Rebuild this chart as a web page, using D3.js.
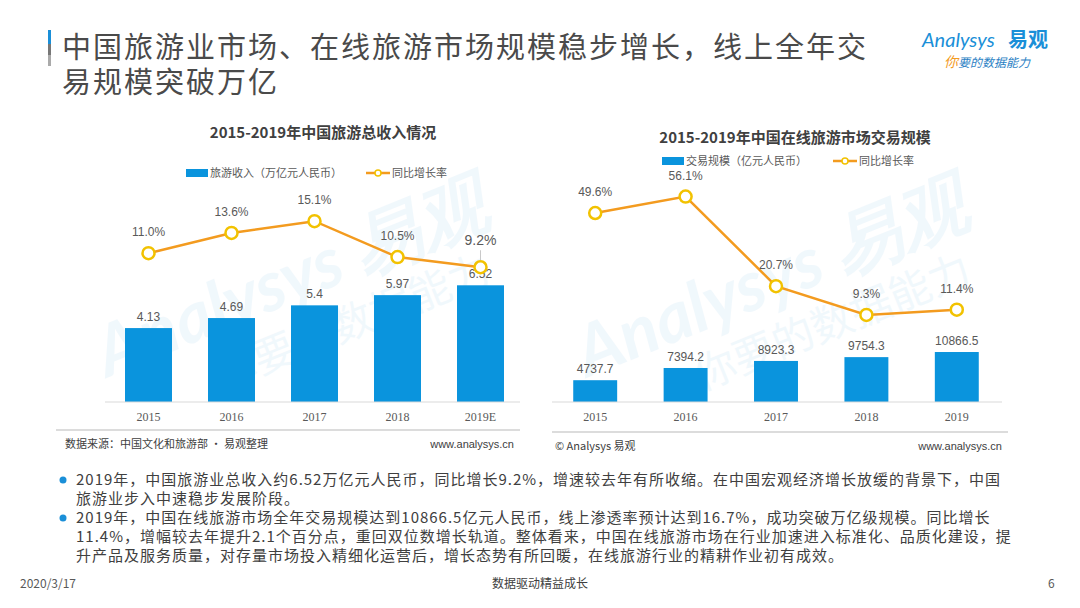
<!DOCTYPE html>
<html>
<head>
<meta charset="utf-8">
<script src="https://cdn.jsdelivr.net/npm/d3@7"></script>
<style>
  body { margin: 0; background: #fff; }
  svg { display: block; font-family: "Noto Sans CJK SC", "Noto Sans", sans-serif; }
</style>
</head>
<body>
<div id="slide"></div>
<script>
// data
let yearsL   = ['2015', '2016', '2017', '2018', '2019E'];
let incomeL  = [4.13, 4.69, 5.4, 5.97, 6.52];
let growthL  = [11.0, 13.6, 15.1, 10.5, 9.2];

let yearsR   = ['2015', '2016', '2017', '2018', '2019'];
let scaleR   = [4737.7, 7394.2, 8923.3, 9754.3, 10866.5];
let growthR  = [49.6, 56.1, 20.7, 9.3, 11.4];

let bullets = [
  ['2019年，中国旅游业总收入约6.52万亿元人民币，同比增长9.2%，增速较去年有所收缩。在中国宏观经济增长放缓的背景下，中国',
   '旅游业步入中速稳步发展阶段。'],
  ['2019年，中国在线旅游市场全年交易规模达到10866.5亿元人民币，线上渗透率预计达到16.7%，成功突破万亿级规模。同比增长',
   '11.4%，增幅较去年提升2.1个百分点，重回双位数增长轨道。整体看来，中国在线旅游市场在行业加速进入标准化、品质化建设，提',
   '升产品及服务质量，对存量市场投入精细化运营后，增长态势有所回暖，在线旅游行业的精耕作业初有成效。']
];

let w = 1080, h = 608;
let BLUE = '#0a94dd', ORANGE = '#f39b1f', RING = '#f2c200', GREY = '#595959';

let svg = d3.select('#slide').append('svg').attr('width', w).attr('height', h);

// header
let bar = svg.append('defs').append('linearGradient').attr('id', 'hbar').attr('x1', 0).attr('x2', 0).attr('y1', 0).attr('y2', 1);
bar.append('stop').attr('offset', '0%').attr('stop-color', '#1a8fd8');
bar.append('stop').attr('offset', '40%').attr('stop-color', '#1a8fd8');
bar.append('stop').attr('offset', '40%').attr('stop-color', '#777');
bar.append('stop').attr('offset', '70%').attr('stop-color', '#777');
bar.append('stop').attr('offset', '70%').attr('stop-color', '#aaa');
svg.append('rect').attr('x', 48).attr('y', 30).attr('width', 3).attr('height', 36).attr('fill', 'url(#hbar)');

svg.append('text').attr('x', 62).attr('y', 58).attr('font-size', 29).attr('letter-spacing', 2).attr('fill', '#4a4a4a')
  .text('中国旅游业市场、在线旅游市场规模稳步增长，线上全年交');
svg.append('text').attr('x', 62).attr('y', 93).attr('font-size', 29).attr('letter-spacing', 2).attr('fill', '#4a4a4a')
  .text('易规模突破万亿');

// logo
let logo = svg.append('g');
logo.append('text').attr('x', 922).attr('y', 47).attr('font-size', 20).attr('fill', '#1a8fd8')
  .attr('font-family', 'Lato, sans-serif').attr('font-style', 'italic').text('Analysys');
logo.append('text').attr('x', 1008).attr('y', 47).attr('font-size', 20).attr('font-weight', 'bold').attr('fill', '#1a8fd8').text('易观');
logo.append('text').attr('x', 944).attr('y', 67).attr('font-size', 12).attr('font-style', 'italic')
  .call(t => {
    t.append('tspan').attr('fill', '#f39b1f').attr('font-size', 14).text('你');
    t.append('tspan').attr('fill', '#2b7fc4').text('要的数据能力');
  });

function chart(cfg) {
  let g = svg.append('g');

  // watermark
  let wm = g.append('g').attr('transform', 'translate(' + cfg.wm + ') rotate(-22)').attr('opacity', 0.06).attr('fill', '#1a8fd8');
  wm.append('text').attr('text-anchor', 'middle').attr('font-size', 70).attr('font-weight', 'bold')
    .attr('font-family', 'Lato, sans-serif').attr('font-style', 'italic').text('Analysys 易观');
  wm.append('text').attr('text-anchor', 'middle').attr('y', 55).attr('x', 40).attr('font-size', 42).text('你要的数据能力');

  g.append('text').attr('x', cfg.titleX).attr('y', cfg.titleY).attr('text-anchor', 'middle')
    .attr('font-size', 15).attr('font-weight', 'bold').attr('fill', '#404040').text(cfg.title);

  // legend
  g.append('rect').attr('x', cfg.legX).attr('y', cfg.legY - 4).attr('width', 22).attr('height', 8).attr('fill', BLUE);
  g.append('text').attr('x', cfg.legX + 24).attr('y', cfg.legY + 4).attr('font-size', 11).attr('fill', GREY).text(cfg.barName);
  g.append('line').attr('x1', cfg.leg2X).attr('x2', cfg.leg2X + 24).attr('y1', cfg.legY).attr('y2', cfg.legY)
    .attr('stroke', ORANGE).attr('stroke-width', 2.5);
  g.append('circle').attr('cx', cfg.leg2X + 12).attr('cy', cfg.legY).attr('r', 3).attr('fill', '#fff').attr('stroke', RING).attr('stroke-width', 1.5);
  g.append('text').attr('x', cfg.leg2X + 26).attr('y', cfg.legY + 4).attr('font-size', 11).attr('fill', GREY).text('同比增长率');

  let x = d3.scaleBand().domain(cfg.years).range(cfg.xRange).paddingInner(cfg.pad).paddingOuter(cfg.pad / 2);
  let y = d3.scaleLinear().domain(cfg.barDomain).range([402, 402 - cfg.barPx]);
  let yl = d3.scaleLinear().domain([0, cfg.lineMax]).range([cfg.lineZero, cfg.lineZero - cfg.lineMax * cfg.linePx]);

  g.selectAll('rect.bar').data(cfg.bars).enter().append('rect').attr('class', 'bar')
    .attr('x', (d, i) => x(cfg.years[i])).attr('width', x.bandwidth())
    .attr('y', d => y(d)).attr('height', d => y(0) - y(d)).attr('fill', BLUE);

  g.selectAll('text.bv').data(cfg.bars).enter().append('text').attr('class', 'bv')
    .attr('x', (d, i) => x(cfg.years[i]) + x.bandwidth() / 2).attr('y', d => y(d) - 7)
    .attr('text-anchor', 'middle').attr('font-size', 12).attr('fill', GREY)
    .attr('font-family', '"Liberation Sans", sans-serif').text(d => d);

  // axis
  let axis = g.append('g').attr('transform', 'translate(0,402)')
    .call(d3.axisBottom(x).tickSize(0).tickPadding(10));
  axis.select('.domain').attr('stroke', '#d9d9d9').attr('d', 'M' + cfg.axisX[0] + ',0H' + cfg.axisX[1]);
  axis.selectAll('text').attr('font-size', 12).attr('fill', GREY).attr('font-family', '"Liberation Serif", serif');

  let line = d3.line().x((d, i) => x(cfg.years[i]) + x.bandwidth() / 2).y(d => yl(d));
  g.append('path').datum(cfg.rates).attr('d', line).attr('fill', 'none').attr('stroke', ORANGE).attr('stroke-width', 2.5);

  g.selectAll('circle.pt').data(cfg.rates).enter().append('circle').attr('class', 'pt')
    .attr('cx', (d, i) => x(cfg.years[i]) + x.bandwidth() / 2).attr('cy', d => yl(d)).attr('r', 6)
    .attr('fill', '#fff').attr('stroke', RING).attr('stroke-width', 2.5);

  g.selectAll('text.pv').data(cfg.rates).enter().append('text').attr('class', 'pv')
    .attr('x', (d, i) => x(cfg.years[i]) + x.bandwidth() / 2)
    .attr('y', (d, i) => yl(d) - (cfg.bigLast && i === cfg.rates.length - 1 ? 22 : 17))
    .attr('text-anchor', 'middle').attr('fill', GREY)
    .attr('font-size', (d, i) => cfg.bigLast && i === cfg.rates.length - 1 ? 14 : 12)
    .attr('font-family', '"Liberation Sans", sans-serif').text(d => d.toFixed(1) + '%');

  if (cfg.bigLast) {
    let lx = x(cfg.years[4]) + x.bandwidth() / 2, ly = yl(cfg.rates[4]);
    g.append('line').attr('x1', lx).attr('x2', lx).attr('y1', ly - 17).attr('y2', ly - 7).attr('stroke', '#bbb').attr('stroke-width', 0.8);
  }

  // source strip
  g.append('line').attr('x1', cfg.sepX[0]).attr('x2', cfg.sepX[1]).attr('y1', cfg.sepY).attr('y2', cfg.sepY)
    .attr('stroke', '#d0d0d0').attr('stroke-width', 1.5);
  g.append('text').attr('x', cfg.srcX).attr('y', cfg.sepY + 18).attr('font-size', 11).attr('fill', '#404040').text(cfg.source);
  g.append('text').attr('x', cfg.sepX[1] - 6).attr('y', cfg.sepY + 18).attr('text-anchor', 'end').attr('font-size', 11)
    .attr('fill', '#404040').attr('font-family', '"Liberation Sans", sans-serif').text('www.analysys.cn');
}

chart({
  title: '2015-2019年中国旅游总收入情况', titleX: 323, titleY: 138,
  barName: '旅游收入（万亿元人民币）', legX: 186, leg2X: 366, legY: 173,
  years: yearsL, bars: incomeL, rates: growthL,
  xRange: [107, 522], pad: 0.434, axisX: [105, 520],
  barDomain: [0, 8], barPx: 8 * 17.9,
  lineMax: 20, lineZero: 339, linePx: 7.8, bigLast: true,
  sepX: [56, 520], sepY: 430, srcX: 65, source: '数据来源：中国文化和旅游部  · 易观整理',
  wm: '300,300'
});

chart({
  title: '2015-2019年中国在线旅游市场交易规模', titleX: 795, titleY: 143,
  barName: '交易规模（亿元人民币）', legX: 662, leg2X: 833, legY: 161,
  years: yearsR, bars: scaleR, rates: growthR,
  xRange: [550, 1002], pad: 0.514, axisX: [552, 1002],
  barDomain: [0, 12000], barPx: 12000 * 0.0046,
  lineMax: 60, lineZero: 338.5, linePx: 2.53, bigLast: false,
  sepX: [552, 1008], sepY: 432, srcX: 555, source: '© Analysys 易观',
  wm: '780,300'
});

// bullet text
let by = 485;
bullets.forEach(par => {
  svg.append('circle').attr('cx', 63).attr('cy', by - 5).attr('r', 3.5).attr('fill', '#1a8fd8');
  par.forEach(line => {
    svg.append('text').attr('x', 76).attr('y', by).attr('font-size', 15).attr('letter-spacing', 1)
      .attr('fill', '#404040').text(line);
    by += 19;
  });
});

// footer
svg.append('text').attr('x', 20).attr('y', 588).attr('font-size', 12).attr('fill', '#595959').text('2020/3/17');
svg.append('text').attr('x', 540).attr('y', 588).attr('text-anchor', 'middle').attr('font-size', 12).attr('fill', '#404040').text('数据驱动精益成长');
svg.append('text').attr('x', 1048).attr('y', 588).attr('font-size', 12).attr('fill', '#595959').text('6');
</script>
</body>
</html>
